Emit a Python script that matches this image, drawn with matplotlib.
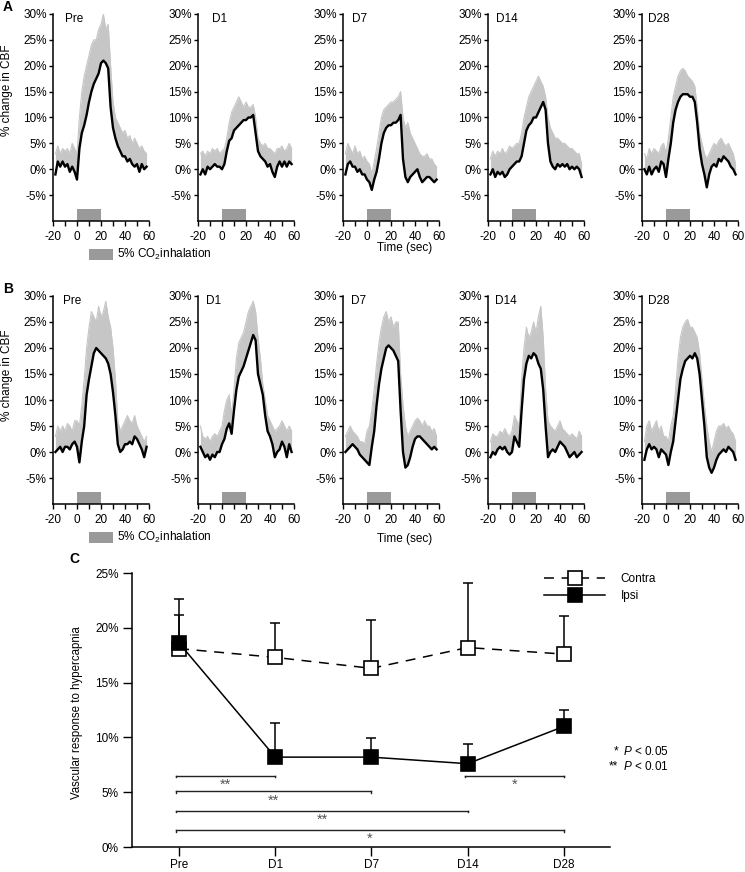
import numpy as np
import matplotlib
matplotlib.use("Agg")
import matplotlib.pyplot as plt
from matplotlib.patches import Rectangle

plt.rcParams['font.family'] = ['Liberation Sans', 'DejaVu Sans']
plt.rcParams['mathtext.fontset'] = 'custom'
plt.rcParams['mathtext.rm'] = 'Liberation Sans'
plt.rcParams['mathtext.it'] = 'Liberation Sans:italic'

# ---------------- data: time courses (panels A and B) ----------------
time_s = [-18, -16, -14, -12, -10, -8, -6, -4, -2, 0, 2, 4, 6, 8, 10, 12, 14, 16, 18, 20,
          22, 24, 26, 28, 30, 32, 34, 36, 38, 40, 42, 44, 46, 48, 50, 52, 54, 56, 58]
panel_titles = ['Pre', 'D1', 'D7', 'D14', 'D28']
co2_window = [0, 20]
y_ticks_ab = [-5, 0, 5, 10, 15, 20, 25, 30]
x_major_ab = [-20, 0, 20, 40, 60]
x_minor_ab = [-10, 10, 30, 50]

# Panel A (contralateral) mean and upper error envelope (% change in CBF)
a_pre_mean = [-1, 1.5, 0.5, 1.5, 0.5, 1, -0.5, 0.5, -0.5, -2, 4, 7, 8.5, 10.5, 13, 15, 16.5, 17.5, 18.5, 20.5,
              21, 20.5, 19.5, 12, 8, 6, 4.5, 3.5, 2.5, 2.5, 1.5, 2, 1, 0.5, 1, -0.5, 1, 0, 0.5]
a_pre_upper = [3, 4.5, 3, 4, 3.5, 4, 3, 5, 4, 3, 10, 15, 18, 20, 22, 24, 25, 25, 27, 28,
               30, 27, 28, 20, 13, 10, 9, 8, 7, 7.5, 6, 6.5, 5, 6, 5, 4, 4.5, 3.5, 3]
a_d1_mean = [-1, 0, -1, 0.5, 0, 0.5, 1, 0.5, 0.5, 0, 1, 3.5, 5.5, 6, 7.5, 8, 8.5, 9, 9.5, 9.5,
             10, 10, 10.5, 7, 3.5, 2.5, 2, 1.5, 0.5, 1, -0.5, -1.5, 0.5, 1.5, 0.5, 1.5, 0.5, 1.5, 1]
a_d1_upper = [3, 3.5, 2.5, 3.5, 3, 4, 3.5, 4, 3, 3.5, 4, 6, 9, 11, 12, 13, 14, 13, 12, 13,
              12, 12, 12.5, 10, 6, 5, 4.5, 5, 4, 4, 3.5, 3, 4, 4, 4.5, 3.5, 4, 5, 4]
a_d7_mean = [-1, 1, 1.5, 0.5, 0.5, -0.5, 0, -1, -1, -2, -2.5, -4, -2, -0.5, 2, 5, 7, 8, 8.5, 8.5,
             9, 9, 9.5, 10.5, 2, -1.5, -2.5, -1.5, -1, -0.5, 0, -1.5, -2.5, -2, -1.5, -1.5, -2, -2.5, -2]
a_d7_upper = [3, 5, 4, 3, 4.5, 3, 3.5, 2, 2.5, 1.5, 1, -1, 1.5, 4, 7, 10, 11.5, 12, 12.5, 13,
              13, 13.5, 14, 15, 10, 8, 9, 7, 6, 5, 4, 3, 2.5, 2.5, 3, 2, 2, 1, 0.5]
a_d14_mean = [-1, 0, -1.5, -0.5, -1, -0.5, -1.5, -1, 0, 0.5, 1, 1.5, 1.5, 2.5, 5, 7.5, 8.5, 9, 10, 10,
              11, 12, 13, 11.5, 5, 1.5, 0.5, 0, 1, 0.5, 1, 0.5, 1, 0, 0.5, 0, 0.5, 0, -1.5]
a_d14_upper = [2, 3.5, 2.5, 3.5, 3, 4, 3, 3.5, 4.5, 4, 4.5, 5, 5, 7, 10, 12, 14, 15, 16, 17,
               18, 17, 16, 14, 10, 8, 7, 6, 6, 5.5, 5, 5, 4.5, 4, 4, 3.5, 3, 3, 1]
a_d28_mean = [0, -1, 0.5, -1, 0, 0.5, -0.5, 1.5, 1, -1.5, 2, 5, 9, 11.5, 13, 14, 14.5, 14.5, 14.5, 14,
              14, 13, 9, 4, 1, -1, -3.5, -1, 0.5, 1, 0.5, 2, 1.5, 2.5, 2, 1.5, 0.5, 0, -1]
a_d28_upper = [3, 2, 4, 3, 4, 3.5, 3, 4.5, 5, 3, 6, 10, 14, 16, 18, 19, 19.5, 19, 18, 17.5,
               17, 16, 12, 7, 5, 3, 2, 3, 4, 5, 4.5, 5.5, 6, 5, 4.5, 5, 4, 3, 1]

# Panel B (ipsilateral)
b_pre_mean = [0, 0.5, 1, 0, 1, 1, 0.5, 1.5, 2, 1, -2, 2, 5, 11, 14, 16.5, 19, 20, 19.5, 19,
              18.5, 18, 17, 15, 11.5, 7, 1.5, 0, 0.5, 1.5, 1.5, 2, 1.5, 3, 2.5, 1.5, 0.5, -1, 1]
b_pre_upper = [3, 5, 4, 5, 4, 5.5, 5, 4, 6, 6, 5, 9, 14, 20, 24, 27, 26, 25, 28, 26,
               27, 29, 26, 24, 20, 14, 6, 4, 5, 6, 7, 6, 5.5, 7, 5, 4, 3, 2, 3]
b_d1_mean = [1, 0, -1, -0.5, -1.5, -0.5, -1, 0, 0, 1.5, 2.5, 4.5, 5.5, 3.5, 8, 12, 14.5, 15.5, 16.5, 18,
             19.5, 21, 22.5, 21.5, 15, 13, 11, 7, 4, 3, 1.5, -1, 0, 0.5, 2, 1, -1, 1.5, 0]
b_d1_upper = [5, 3, 2.5, 3, 2, 3, 3.5, 3, 4, 5, 8, 10, 11, 7, 12, 18, 21, 22, 23, 25,
              27, 28, 29, 27, 22, 18, 13, 10, 7, 6, 5, 4, 4.5, 5, 6, 5, 4, 5, 4]
b_d7_mean = [0, 0.5, 1, 1.5, 1, 0.5, -0.5, -1, -1.5, -2, -2.5, 1, 4, 9, 13, 16, 18, 20, 20.5, 20,
             19.5, 18.5, 17.5, 8, 0, -3, -2.5, -1, 1, 2.5, 3, 3, 2.5, 2, 1.5, 1, 0.5, 1, 0.5]
b_d7_upper = [3, 4, 5, 4, 3.5, 3, 2, 2, 1.5, 4, 5, 8, 12, 17, 21, 24, 26, 27, 25, 26,
              24, 25, 25, 15, 9, 5, 3, 4, 5, 6, 6.5, 6, 5, 6, 5, 5, 4, 4.5, 3]
b_d14_mean = [-1, 0, -0.5, 0.5, 1, 0.5, 1, 0, -0.5, 0, 3, 2, 1, 8, 14, 17, 18.5, 18, 19, 18.5,
              17, 16, 12, 5, -1, 0, 0.5, 0, 1, 2, 1.5, 1, 0, -1, -0.5, 0, -1, -0.5, 0]
b_d14_upper = [2, 3.5, 3, 3, 4, 3.5, 4.5, 3.5, 3, 4, 7, 6, 5, 14, 20, 24, 22, 23, 25, 23,
               26, 28, 22, 12, 6, 5, 4.5, 4, 5, 6, 4.5, 4, 3.5, 3, 3.5, 3, 2.5, 4, 3]
b_d28_mean = [-1.5, 0.5, 1.5, 0.5, 1, 0.5, -1, 0.5, 0, -0.5, -2.5, 0, 2, 6, 10, 14, 16, 17.5, 18, 18.5,
              18, 19, 18, 15, 10, 5, -1, -3, -4, -3, -1.5, -0.5, 0, 0.5, 0, 1, 0.5, 0, -1.5]
b_d28_upper = [2, 5, 6, 4, 5, 6, 4, 5, 3, 3, 2, 5, 7, 12, 18, 22, 24, 25, 25.5, 24,
               24, 23, 22, 19, 14, 9, 5, 2, 0, 2, 4, 5, 5, 5.5, 4.5, 5, 4, 3.5, 2]

# ---------------- data: panel C ----------------
categories = ['Pre', 'D1', 'D7', 'D14', 'D28']
contra_mean = [18.1, 17.3, 16.3, 18.2, 17.6]
contra_sem = [3.1, 3.1, 4.4, 5.9, 3.5]
ipsi_mean = [18.6, 8.2, 8.2, 7.6, 11.0]
ipsi_sem = [4.0, 3.1, 1.7, 1.8, 1.5]
y_ticks_c = [0, 5, 10, 15, 20, 25]
sig_pairs = [(0, 1), (0, 2), (0, 3), (0, 4), (3, 4)]
sig_level = [6.5, 5.1, 3.3, 1.55, 6.5]
sig_marks = ['**', '**', '**', '*', '*']

rows = [
    [(a_pre_mean, a_pre_upper), (a_d1_mean, a_d1_upper), (a_d7_mean, a_d7_upper),
     (a_d14_mean, a_d14_upper), (a_d28_mean, a_d28_upper)],
    [(b_pre_mean, b_pre_upper), (b_d1_mean, b_d1_upper), (b_d7_mean, b_d7_upper),
     (b_d14_mean, b_d14_upper), (b_d28_mean, b_d28_upper)],
]

# ---------------- layout ----------------
W, H = 745, 872
fig = plt.figure(figsize=(W / 100, H / 100), dpi=100)


def rect(l, t, r, b):
    return [l / W, 1 - b / H, (r - l) / W, (b - t) / H]


def ftext(x, y, s, **kw):
    fig.text(x / W, 1 - y / H, s, **kw)


FS = 8.5
row_tops = [14, 296]
row_bottoms = [221, 504]
panel_lefts = [53, 198, 343, 488, 642]
panel_w = 96
title_x = [[0.12, 0.146, 0.09, 0.08, 0.06], [0.105, 0.08, 0.083, 0.073, 0.06]]

for r, row in enumerate(rows):
    for i, (mean, upper) in enumerate(row):
        l = panel_lefts[i]
        ax = fig.add_axes(rect(l, row_tops[r], l + panel_w, row_bottoms[r]))
        t = np.array(time_s, dtype=float)
        m = np.array(mean, dtype=float)
        u = np.array(upper, dtype=float)
        ax.fill_between(t, m, u, color='#c6c6c6', lw=0, zorder=1)
        ax.plot(t, u, color='#c6c6c6', lw=0.8, zorder=1)
        ax.plot(t, m, color='black', lw=1.7, zorder=2)
        ax.fill_between(co2_window, -10, -7.6, color='#9a9a9a', lw=0, zorder=1)
        ax.set_xlim(-20, 60)
        ax.set_ylim(-10, 30)
        for s in ['top', 'right']:
            ax.spines[s].set_visible(False)
        for s in ['left', 'bottom']:
            ax.spines[s].set_linewidth(1.1)
        ax.set_yticks(y_ticks_ab, [f'{v}%' for v in y_ticks_ab])
        ax.set_xticks(x_major_ab, [str(v) for v in x_major_ab])
        ax.set_xticks(x_minor_ab, minor=True)
        ax.tick_params(axis='y', length=3, width=1.0, pad=1.5, labelsize=FS)
        ax.tick_params(axis='x', which='both', length=3.5, width=1.0, pad=4, labelsize=FS)
        ax.text(title_x[r][i], 0.976, panel_titles[i], transform=ax.transAxes,
                ha='left', va='center', fontsize=FS)

# labels around panels A and B
for r, (ylab_y, leg_y, time_y) in enumerate([(90, 254, 248), (375, 537, 539)]):
    ftext(7, ylab_y, '% change in CBF', rotation=90, ha='center', va='center', fontsize=FS)
    leg_rect = Rectangle(((89) / W, 1 - (leg_y + 6) / H), 24 / W, 11 / H,
                         transform=fig.transFigure, color='#9a9a9a', lw=0)
    fig.patches.append(leg_rect)
    ftext(117, leg_y, '5% CO$_2$inhalation', ha='left', va='center', fontsize=FS)
    ftext(405, time_y, 'Time (sec)', ha='center', va='center', fontsize=FS)

ftext(3, 7, 'A', fontsize=10, fontweight='bold', ha='left', va='center')
ftext(3, 289, 'B', fontsize=10, fontweight='bold', ha='left', va='center')
ftext(69, 559, 'C', fontsize=10, fontweight='bold', ha='left', va='center')

# ---------------- panel C ----------------
axc = fig.add_axes(rect(132, 573, 610, 847))
x = np.arange(len(categories))
zeros = np.zeros(len(categories))
axc.errorbar(x, contra_mean, yerr=[zeros, contra_sem], fmt='none', ecolor='black',
             elinewidth=1.1, capsize=3.3, capthick=1.1, zorder=2)
axc.errorbar(x, ipsi_mean, yerr=[zeros, ipsi_sem], fmt='none', ecolor='black',
             elinewidth=1.1, capsize=3.3, capthick=1.1, zorder=2)
h_contra, = axc.plot(x, contra_mean, ls=(0, (6.5, 5)), color='black', lw=1.1, marker='s',
                     ms=9.5, mfc='white', mec='black', mew=1.2, zorder=3, label='Contra')
h_ipsi, = axc.plot(x, ipsi_mean, ls='-', color='black', lw=1.1, marker='s',
                   ms=9.5, mfc='black', mec='black', mew=1.2, zorder=4, label='Ipsi')

for (i0, i1), yl, mark in zip(sig_pairs, sig_level, sig_marks):
    x0, x1 = x[i0] - 0.03, x[i1]
    axc.plot([x0, x1], [yl, yl], color='#222222', lw=1.0, zorder=2)
    axc.plot([x0, x0], [yl, yl - 0.15], color='#222222', lw=1.0, zorder=2)
    axc.plot([x1, x1], [yl, yl - 0.15], color='#222222', lw=1.0, zorder=2)
    axc.text((x0 + x1) / 2, yl - 0.2, mark, ha='center', va='top', fontsize=10.5, color='#555555')

axc.set_xlim(-0.49, 4.48)
axc.set_ylim(0, 25)
for s in ['top', 'right']:
    axc.spines[s].set_visible(False)
for s in ['left', 'bottom']:
    axc.spines[s].set_linewidth(1.1)
axc.set_yticks(y_ticks_c, [f'{v}%' for v in y_ticks_c])
axc.set_xticks(x, categories)
axc.tick_params(axis='both', length=6.5, width=1.0, labelsize=FS)
axc.tick_params(axis='y', pad=3)
axc.tick_params(axis='x', pad=2)

ftext(77, 713, 'Vascular response to hypercapnia', rotation=90, ha='center', va='center', fontsize=8.3)

leg = axc.legend(handles=[h_contra, h_ipsi], loc='center left',
                 bbox_to_anchor=(544 / W, 1 - 587.5 / H), bbox_transform=fig.transFigure,
                 frameon=False, fontsize=FS, handlelength=5.2, handletextpad=1.27,
                 labelspacing=0.45, borderpad=0, borderaxespad=0, numpoints=1)

ftext(618, 751, '*', ha='right', va='center', fontsize=FS)
ftext(623, 751, '$P$ < 0.05', ha='left', va='center', fontsize=FS)
ftext(618, 766, '**', ha='right', va='center', fontsize=FS)
ftext(623, 766, '$P$ < 0.01', ha='left', va='center', fontsize=FS)

fig.savefig('out.png', dpi=100)
